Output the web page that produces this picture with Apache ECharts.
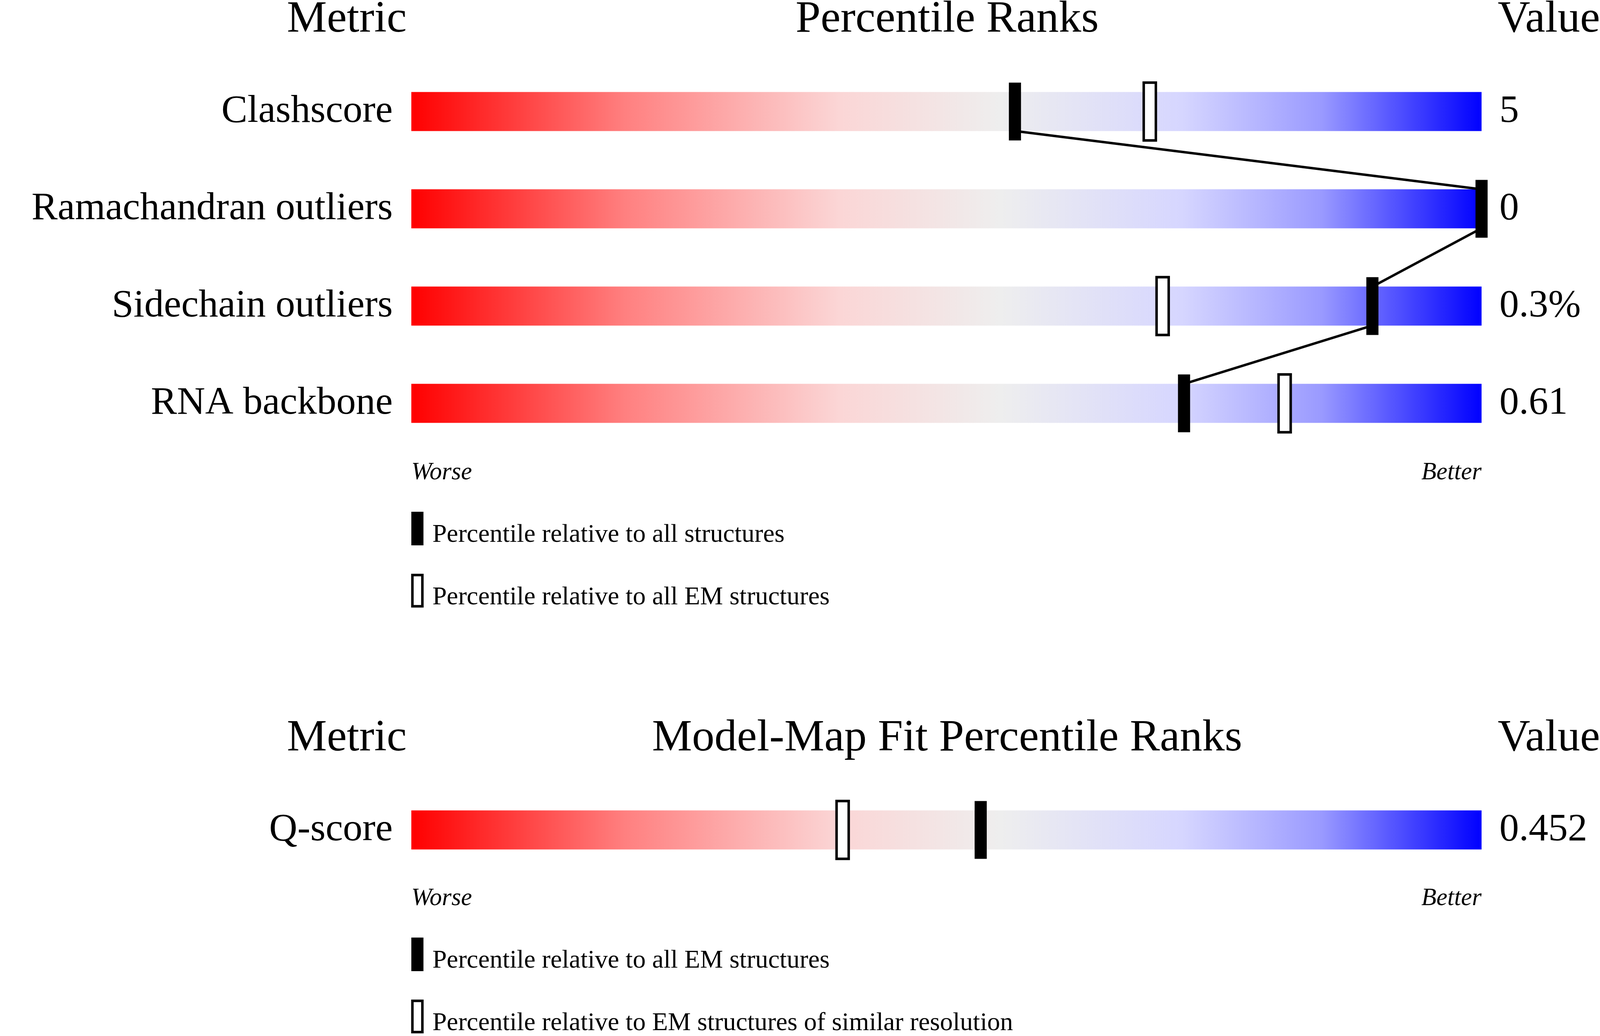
<!DOCTYPE html>
<html>
<head>
<meta charset="utf-8">
<script src="https://cdn.jsdelivr.net/npm/echarts@6/dist/echarts.min.js"></script>
<style>html,body{margin:0;padding:0;background:#fff;overflow:hidden}#chart{width:100vw;height:100vh}</style>
</head>
<body>
<div id="chart"></div>
<script>
var metrics = ['Clashscore', 'Ramachandran outliers', 'Sidechain outliers', 'RNA backbone'];
var metricValues = ['5', '0', '0.3%', '0.61'];
var pctAll = [56.4, 100, 89.8, 72.2];
var pctEM = [69.0, null, 70.2, 81.6];

var fitMetrics = ['Q-score'];
var fitValues = ['0.452'];
var fitPctAll = [53.2];
var fitPctSimilar = [40.3];

var FONT = 'Liberation Serif';
var chart = echarts.init(document.getElementById('chart'));
var W = chart.getWidth(), H = chart.getHeight();
var sx = W / 4485, sy = H / 2652, s = Math.min(sx, sy);
function X(v) { return v * sx; }
function Y(v) { return v * sy; }
function font(size, style) { return (style ? style + ' ' : '') + Math.round(size * s) + 'px "' + FONT + '"'; }

var gradient = new echarts.graphic.LinearGradient(0, 0, 1, 0, [
    {offset: 0, color: '#ff0000'},
    {offset: 0.2, color: '#ff8080'},
    {offset: 0.4, color: '#fbd6d6'},
    {offset: 0.55, color: '#eeeeee'},
    {offset: 0.72, color: '#d6d6ff'},
    {offset: 0.85, color: '#9a9aff'},
    {offset: 1, color: '#0000ff'}
]);

function sliderItem(labels, values) {
    return function (params, api) {
        var row = api.value(0);
        var p0 = api.coord([0, row]);
        var p1 = api.coord([100, row]);
        var h = Y(100);
        return {
            type: 'group',
            children: [
                {type: 'rect', shape: {x: p0[0], y: p0[1] - h / 2, width: p1[0] - p0[0], height: h}, style: {fill: gradient}},
                {type: 'text', style: {text: labels[row], x: p0[0] - X(52), y: p0[1], align: 'right', verticalAlign: 'middle', font: font(109), fill: '#000'}},
                {type: 'text', style: {text: values[row], x: p1[0] + X(50), y: p0[1], align: 'left', verticalAlign: 'middle', font: font(109), fill: '#000'}}
            ]
        };
    };
}

function markerItem(filled) {
    return function (params, api) {
        var pt = api.coord([api.value(0), api.value(1)]);
        var w = X(34), h = Y(148);
        return {
            type: 'rect',
            shape: {x: pt[0] - w / 2, y: pt[1] - h / 2, width: w, height: h},
            style: filled ? {fill: '#000'} : {fill: '#fff', stroke: '#000', lineWidth: 7 * s}
        };
    };
}

function pts(arr) {
    var out = [];
    arr.forEach(function (v, i) { if (v !== null) out.push([v, i]); });
    return out;
}

var linePts = [];
pctAll.forEach(function (v, i) {
    linePts.push([v, i - 0.2]);
    linePts.push([v, i + 0.2]);
});

function text(x, y, str, f, align) {
    return {type: 'text', x: x, y: y, style: {text: str, font: f, fill: '#000', align: align || 'left', verticalAlign: 'middle'}};
}

function headers(y, mid) {
    return [
        text(X(972), Y(y), 'Metric', font(126), 'center'),
        text(X(2655), Y(y), mid, font(126), 'center'),
        text(X(4485), Y(y), 'Value', font(126), 'right')
    ];
}

function footer(y, l1, l2) {
    return [
        text(X(1153), Y(y), 'Worse', font(69, 'italic')),
        text(X(4153), Y(y), 'Better', font(69, 'italic'), 'right'),
        {type: 'rect', shape: {x: X(1153), y: Y(y + 100), width: X(34), height: Y(86)}, style: {fill: '#000'}},
        text(X(1212), Y(y + 160), l1, font(72)),
        {type: 'rect', shape: {x: X(1156), y: Y(y + 262), width: X(28), height: Y(80)}, style: {fill: '#fff', stroke: '#000', lineWidth: 7 * s}},
        text(X(1212), Y(y + 320), l2, font(72))
    ];
}

var graphics = []
    .concat(headers(51, 'Percentile Ranks'))
    .concat(footer(1210, 'Percentile relative to all structures', 'Percentile relative to all EM structures'))
    .concat(headers(1891, 'Model-Map Fit Percentile Ranks'))
    .concat(footer(2300, 'Percentile relative to all EM structures', 'Percentile relative to EM structures of similar resolution'));

var option = {
    animation: false,
    backgroundColor: '#fff',
    grid: [
        {left: X(1153), width: X(3000), top: Y(161), height: Y(996)},
        {left: X(1153), width: X(3000), top: Y(2000), height: Y(249)}
    ],
    xAxis: [
        {gridIndex: 0, type: 'value', min: 0, max: 100, show: false},
        {gridIndex: 1, type: 'value', min: 0, max: 100, show: false}
    ],
    yAxis: [
        {gridIndex: 0, type: 'value', min: -0.5, max: 3.5, inverse: true, show: false},
        {gridIndex: 1, type: 'value', min: -0.5, max: 0.5, inverse: true, show: false}
    ],
    graphic: graphics,
    series: [
        {type: 'custom', xAxisIndex: 0, yAxisIndex: 0, renderItem: sliderItem(metrics, metricValues), data: metrics.map(function (m, i) { return [i]; }), encode: {y: 0}, z: 1},
        {type: 'line', xAxisIndex: 0, yAxisIndex: 0, data: linePts, symbol: 'none', lineStyle: {color: '#000', width: 7 * s}, z: 2},
        {type: 'custom', xAxisIndex: 0, yAxisIndex: 0, renderItem: markerItem(false), data: pts(pctEM), z: 3},
        {type: 'custom', xAxisIndex: 0, yAxisIndex: 0, renderItem: markerItem(true), data: pts(pctAll), z: 4},
        {type: 'custom', xAxisIndex: 1, yAxisIndex: 1, renderItem: sliderItem(fitMetrics, fitValues), data: fitMetrics.map(function (m, i) { return [i]; }), encode: {y: 0}, z: 1},
        {type: 'custom', xAxisIndex: 1, yAxisIndex: 1, renderItem: markerItem(false), data: pts(fitPctSimilar), z: 3},
        {type: 'custom', xAxisIndex: 1, yAxisIndex: 1, renderItem: markerItem(true), data: pts(fitPctAll), z: 4}
    ]
};
chart.setOption(option);
</script>
</body>
</html>
